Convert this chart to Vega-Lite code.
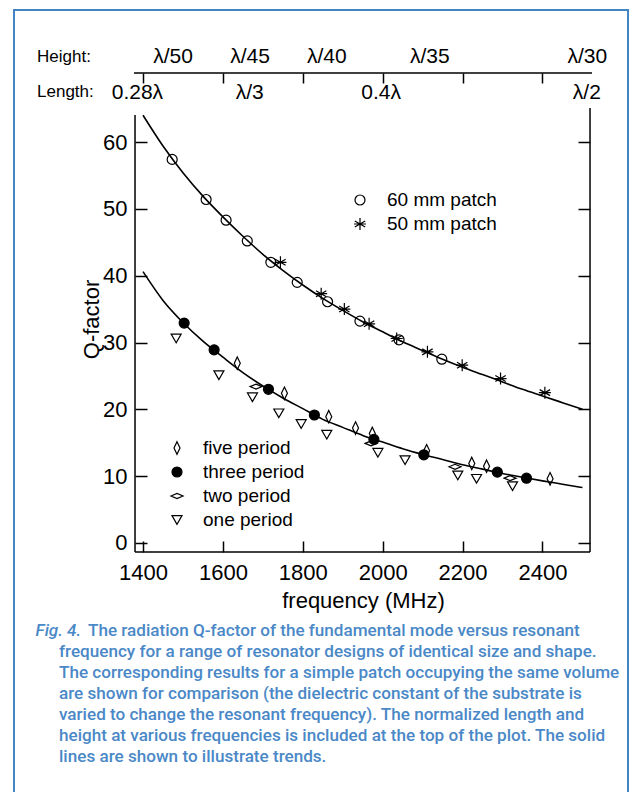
{
  "$schema": "https://vega.github.io/schema/vega-lite/v6.json",
  "width": 633,
  "height": 792,
  "autosize": {"type": "none"},
  "padding": 0,
  "background": "white",
  "config": {
    "view": {"stroke": null},
    "axis": {
      "labelFont": "Liberation Sans",
      "titleFont": "Liberation Sans",
      "labelColor": "black",
      "titleColor": "black",
      "tickColor": "black",
      "domain": false,
      "grid": false,
      "tickWidth": 1.5,
      "titleFontWeight": "normal",
      "labelFontSize": 22,
      "titleFontSize": 22,
      "labelFlush": false,
      "labelOverlap": false,
      "format": "d"
    },
    "text": {"font": "Liberation Sans", "color": "black"}
  },
  "datasets": {
    "curves": [
      {"f": 1400, "q": 64.0, "c": "upper"}, {"f": 1450, "q": 59.4, "c": "upper"}, {"f": 1500, "q": 55.4, "c": "upper"},
      {"f": 1550, "q": 51.9, "c": "upper"}, {"f": 1600, "q": 48.8, "c": "upper"}, {"f": 1650, "q": 45.9, "c": "upper"},
      {"f": 1700, "q": 43.2, "c": "upper"}, {"f": 1750, "q": 40.8, "c": "upper"}, {"f": 1800, "q": 38.6, "c": "upper"},
      {"f": 1850, "q": 36.6, "c": "upper"}, {"f": 1900, "q": 34.8, "c": "upper"}, {"f": 1950, "q": 33.1, "c": "upper"},
      {"f": 2000, "q": 31.6, "c": "upper"}, {"f": 2050, "q": 30.1, "c": "upper"}, {"f": 2100, "q": 28.8, "c": "upper"},
      {"f": 2150, "q": 27.5, "c": "upper"}, {"f": 2200, "q": 26.3, "c": "upper"}, {"f": 2250, "q": 25.2, "c": "upper"},
      {"f": 2300, "q": 24.1, "c": "upper"}, {"f": 2350, "q": 23.0, "c": "upper"}, {"f": 2400, "q": 22.0, "c": "upper"},
      {"f": 2450, "q": 21.0, "c": "upper"}, {"f": 2500, "q": 20.0, "c": "upper"},
      {"f": 1400, "q": 40.6, "c": "lower"}, {"f": 1450, "q": 36.3, "c": "lower"}, {"f": 1500, "q": 33.0, "c": "lower"},
      {"f": 1550, "q": 30.2, "c": "lower"}, {"f": 1600, "q": 27.8, "c": "lower"}, {"f": 1650, "q": 25.5, "c": "lower"},
      {"f": 1700, "q": 23.5, "c": "lower"}, {"f": 1750, "q": 21.7, "c": "lower"}, {"f": 1800, "q": 20.1, "c": "lower"},
      {"f": 1850, "q": 18.5, "c": "lower"}, {"f": 1900, "q": 17.3, "c": "lower"}, {"f": 1950, "q": 16.1, "c": "lower"},
      {"f": 2000, "q": 15.1, "c": "lower"}, {"f": 2050, "q": 14.1, "c": "lower"}, {"f": 2100, "q": 13.25, "c": "lower"},
      {"f": 2150, "q": 12.5, "c": "lower"}, {"f": 2200, "q": 11.7, "c": "lower"}, {"f": 2250, "q": 11.05, "c": "lower"},
      {"f": 2300, "q": 10.4, "c": "lower"}, {"f": 2350, "q": 9.85, "c": "lower"}, {"f": 2400, "q": 9.3, "c": "lower"},
      {"f": 2450, "q": 8.8, "c": "lower"}, {"f": 2500, "q": 8.3, "c": "lower"}
    ],
    "patch": [
      {"f": 1473, "q": 57.4, "s": "60 mm patch"}, {"f": 1558, "q": 51.4, "s": "60 mm patch"},
      {"f": 1608, "q": 48.3, "s": "60 mm patch"}, {"f": 1661, "q": 45.2, "s": "60 mm patch"},
      {"f": 1720, "q": 42.0, "s": "60 mm patch"}, {"f": 1786, "q": 39.0, "s": "60 mm patch"},
      {"f": 1862, "q": 36.1, "s": "60 mm patch"}, {"f": 1943, "q": 33.2, "s": "60 mm patch"},
      {"f": 2041, "q": 30.4, "s": "60 mm patch"}, {"f": 2148, "q": 27.5, "s": "60 mm patch"},
      {"f": 1744, "q": 42.0, "s": "50 mm patch"}, {"f": 1846, "q": 37.3, "s": "50 mm patch"},
      {"f": 1904, "q": 35.0, "s": "50 mm patch"}, {"f": 1966, "q": 32.8, "s": "50 mm patch"},
      {"f": 2035, "q": 30.6, "s": "50 mm patch"}, {"f": 2112, "q": 28.6, "s": "50 mm patch"},
      {"f": 2199, "q": 26.6, "s": "50 mm patch"}, {"f": 2295, "q": 24.6, "s": "50 mm patch"},
      {"f": 2406, "q": 22.5, "s": "50 mm patch"}
    ],
    "period": [
      {"f": 1636, "q": 26.9, "p": "five period"}, {"f": 1754, "q": 22.4, "p": "five period"},
      {"f": 1865, "q": 18.9, "p": "five period"}, {"f": 1932, "q": 17.2, "p": "five period"},
      {"f": 1974, "q": 16.4, "p": "five period"}, {"f": 2110, "q": 13.8, "p": "five period"},
      {"f": 2223, "q": 11.9, "p": "five period"}, {"f": 2260, "q": 11.5, "p": "five period"},
      {"f": 2419, "q": 9.6, "p": "five period"},
      {"f": 1683, "q": 23.4, "p": "two period"}, {"f": 1971, "q": 14.9, "p": "two period"},
      {"f": 2181, "q": 11.4, "p": "two period"}, {"f": 2319, "q": 9.7, "p": "two period"},
      {"f": 1483, "q": 30.6, "p": "one period"}, {"f": 1590, "q": 25.1, "p": "one period"},
      {"f": 1674, "q": 21.8, "p": "one period"}, {"f": 1740, "q": 19.4, "p": "one period"},
      {"f": 1796, "q": 17.8, "p": "one period"}, {"f": 1860, "q": 16.2, "p": "one period"},
      {"f": 1988, "q": 13.5, "p": "one period"}, {"f": 2056, "q": 12.4, "p": "one period"},
      {"f": 2188, "q": 10.1, "p": "one period"}, {"f": 2235, "q": 9.6, "p": "one period"},
      {"f": 2325, "q": 8.5, "p": "one period"},
      {"f": 1503, "q": 32.9, "p": "three period"}, {"f": 1578, "q": 28.9, "p": "three period"},
      {"f": 1714, "q": 23.0, "p": "three period"}, {"f": 1829, "q": 19.15, "p": "three period"},
      {"f": 1978, "q": 15.5, "p": "three period"}, {"f": 2103, "q": 13.2, "p": "three period"},
      {"f": 2287, "q": 10.6, "p": "three period"}, {"f": 2360, "q": 9.7, "p": "three period"}
    ],
    "height": [
      {"label": "λ/50", "f": 1475}, {"label": "λ/45", "f": 1668}, {"label": "λ/40", "f": 1860},
      {"label": "λ/35", "f": 2118}, {"label": "λ/30", "f": 2512}
    ],
    "length": [
      {"label": "0.28λ", "f": 1386}, {"label": "λ/3", "f": 1667}, {"label": "0.4λ", "f": 1996},
      {"label": "λ/2", "f": 2511}
    ],
    "caption": [
      {"part": "fig", "text": "Fig. 4."},
      {"part": "first", "text": "The radiation Q-factor of the fundamental mode versus resonant"},
      {"part": "rest", "text": "frequency for a range of resonator designs of identical size and shape.\nThe corresponding results for a simple patch occupying the same volume\nare shown for comparison (the dielectric constant of the substrate is\nvaried to change the resonant frequency). The normalized length and\nheight at various frequencies is included at the top of the plot. The solid\nlines are shown to illustrate trends."}
    ]
  },
  "layer": [
    {
      "data": {"values": [{}]},
      "mark": {"type": "rect", "filled": false, "color": "#4284c4", "strokeWidth": 2},
      "encoding": {
        "x": {"datum": 1077.05, "type": "quantitative", "scale": {"domain": [1042.0, 2626.6], "nice": false, "zero": false}, "axis": null},
        "x2": {"datum": 2614.1},
        "y": {"datum": 79.75, "type": "quantitative", "scale": {"domain": [-37.26, 81.25], "nice": false, "zero": false}, "axis": null},
        "y2": {"datum": -45}
      }
    },
    {
      "data": {"name": "curves"},
      "mark": {"type": "line", "color": "black", "strokeWidth": 1.6, "interpolate": "monotone"},
      "encoding": {
        "x": {
          "field": "f", "type": "quantitative",
          "scale": {"domain": [1042.0, 2626.6], "nice": false, "zero": false},
          "axis": {
            "orient": "bottom", "offset": -240, "values": [1400, 1600, 1800, 2000, 2200, 2400],
            "tickSize": -11, "labelPadding": 21, "title": "frequency (MHz)", "format": "d",
            "titleX": 363, "titleY": 48, "titleBaseline": "middle", "titleAlign": "center"
          }
        },
        "y": {
          "field": "q", "type": "quantitative",
          "scale": {"domain": [-37.26, 81.25], "nice": false, "zero": false},
          "axis": {
            "orient": "left", "offset": -135, "values": [0, 10, 20, 30, 40, 50, 60],
            "tickSize": -12, "labelPadding": 20, "title": "Q-factor", "format": "d",
            "titleX": -44, "titleY": 319, "titleAngle": -90, "titleBaseline": "middle", "titleAlign": "center"
          }
        },
        "detail": {"field": "c"}
      }
    },
    {
      "data": {"values": [{}]},
      "mark": {"type": "rule", "color": "black", "strokeWidth": 1.5},
      "encoding": {
        "x": {"datum": 2519, "type": "quantitative",
          "axis": {"orient": "top", "offset": -73, "values": [1400, 1600, 1800, 2000, 2200, 2400], "tickSize": -10, "labels": false, "title": null}},
        "y": {"datum": -1.35, "type": "quantitative",
          "axis": {"orient": "right", "offset": -43, "values": [0, 10, 20, 30, 40, 50, 60], "tickSize": -12, "labels": false, "title": null}},
        "y2": {"datum": 65.09}
      }
    },
    {
      "data": {"values": [{}]},
      "mark": {"type": "rule", "color": "black", "strokeWidth": 1.5},
      "encoding": {
        "x": {"datum": 1380, "type": "quantitative", "axis": null},
        "y": {"datum": -1.35, "type": "quantitative", "axis": null},
        "y2": {"datum": 64.04}
      }
    },
    {
      "data": {"values": [{}]},
      "mark": {"type": "rule", "color": "black", "strokeWidth": 1.5},
      "encoding": {
        "x": {"datum": 1380, "type": "quantitative", "axis": null},
        "x2": {"datum": 2519},
        "y": {"datum": -1.35, "type": "quantitative", "axis": null}
      }
    },
    {
      "data": {"values": [{}]},
      "mark": {"type": "rule", "color": "black", "strokeWidth": 1.5},
      "encoding": {
        "x": {"datum": 1377.5, "type": "quantitative", "axis": null},
        "x2": {"datum": 2524},
        "y": {"datum": 70.32, "type": "quantitative", "axis": null}
      }
    },
    {
      "data": {"name": "patch"},
      "mark": {"type": "point", "filled": false, "color": "black", "size": 100, "strokeWidth": 1.2, "opacity": 1},
      "encoding": {
        "x": {"field": "f", "type": "quantitative", "axis": null},
        "y": {"field": "q", "type": "quantitative", "axis": null},
        "shape": {
          "field": "s", "type": "nominal",
          "scale": {"domain": ["60 mm patch", "50 mm patch"], "range": ["circle", "M0,-1.2L0,1.2M-1.04,-0.6L1.04,0.6M-1.04,0.6L1.04,-0.6M-1.2,0L1.2,0"]},
          "legend": {
            "orient": "none", "legendX": 350.5, "legendY": 190.5, "title": null, "padding": 0,
            "labelFont": "Liberation Sans", "labelFontSize": 19, "labelColor": "black",
            "symbolSize": 100, "symbolStrokeColor": "black", "symbolStrokeWidth": 1.2, "symbolFillColor": "transparent",
            "labelOffset": 17.5, "rowPadding": 4
          }
        }
      }
    },
    {
      "data": {"name": "period"},
      "mark": {"type": "point", "filled": false, "color": "black", "size": 100, "strokeWidth": 1.2, "opacity": 1},
      "encoding": {
        "x": {"field": "f", "type": "quantitative", "axis": null},
        "y": {"field": "q", "type": "quantitative", "axis": null},
        "shape": {
          "field": "p", "type": "nominal",
          "scale": {"domain": ["five period", "three period", "two period", "one period"],
            "range": ["M0,-1.25L0.6,0L0,1.25L-0.6,0Z", "circle", "M-1.2,0L0,-0.5L1.2,0L0,0.5Z", "triangle-down"]},
          "legend": {
            "orient": "none", "legendX": 167.5, "legendY": 438.5, "title": null, "padding": 0,
            "labelFont": "Liberation Sans", "labelFontSize": 19, "labelColor": "black",
            "symbolSize": 100, "symbolStrokeColor": "black", "symbolStrokeWidth": 1.2, "symbolFillColor": "transparent",
            "labelOffset": 16.5, "rowPadding": 4,
            "encode": {
              "symbols": {
                "stroke": {"value": "black"},
                "strokeWidth": {"value": 1.2},
                "fill": {"condition": {"test": "datum.value === 'three period'", "value": "black"}, "value": "transparent"}
              }
            }
          }
        },
        "fill": {
          "field": "p", "type": "nominal",
          "scale": {"domain": ["five period", "three period", "two period", "one period"],
            "range": ["transparent", "black", "transparent", "transparent"]},
          "legend": null
        }
      }
    },
    {
      "data": {"name": "height"},
      "mark": {"type": "text", "fontSize": 21, "align": "center", "baseline": "middle"},
      "encoding": {
        "x": {"field": "f", "type": "quantitative", "axis": null},
        "y": {"datum": 72.76, "type": "quantitative", "axis": null},
        "text": {"field": "label"}
      }
    },
    {
      "data": {"name": "length"},
      "mark": {"type": "text", "fontSize": 21, "align": "center", "baseline": "middle"},
      "encoding": {
        "x": {"field": "f", "type": "quantitative", "axis": null},
        "y": {"datum": 67.33, "type": "quantitative", "axis": null},
        "text": {"field": "label"}
      }
    },
    {
      "data": {"values": [{}]},
      "mark": {"type": "text", "text": "Height:", "fontSize": 17, "align": "left", "baseline": "middle"},
      "encoding": {
        "x": {"datum": 1134.7, "type": "quantitative", "axis": null},
        "y": {"datum": 72.76, "type": "quantitative", "axis": null}
      }
    },
    {
      "data": {"values": [{}]},
      "mark": {"type": "text", "text": "Length:", "fontSize": 17, "align": "left", "baseline": "middle"},
      "encoding": {
        "x": {"datum": 1134.7, "type": "quantitative", "axis": null},
        "y": {"datum": 67.5, "type": "quantitative", "axis": null}
      }
    },
    {
      "data": {"name": "caption"},
      "transform": [{"filter": "datum.part === 'fig'"}],
      "mark": {"type": "text", "font": "Roboto", "fontSize": 17.1, "fontWeight": 500, "fontStyle": "italic", "color": "#4a88c7", "align": "left", "baseline": "middle"},
      "encoding": {
        "x": {"datum": 1130.9, "type": "quantitative", "axis": null},
        "y": {"datum": -13.12, "type": "quantitative", "axis": null},
        "text": {"field": "text"}
      }
    },
    {
      "data": {"name": "caption"},
      "transform": [{"filter": "datum.part === 'first'"}],
      "mark": {"type": "text", "font": "Roboto", "fontSize": 17.1, "fontWeight": 500, "color": "#4a88c7", "align": "left", "baseline": "middle"},
      "encoding": {
        "x": {"datum": 1262.3, "type": "quantitative", "axis": null},
        "y": {"datum": -13.12, "type": "quantitative", "axis": null},
        "text": {"field": "text"}
      }
    },
    {
      "data": {"name": "caption"},
      "transform": [{"filter": "datum.part === 'rest'"}],
      "mark": {"type": "text", "font": "Roboto", "fontSize": 17.1, "fontWeight": 500, "color": "#4a88c7", "align": "left", "baseline": "middle", "lineBreak": "\n", "lineHeight": 21},
      "encoding": {
        "x": {"datum": 1189.7, "type": "quantitative", "axis": null},
        "y": {"datum": -16.26, "type": "quantitative", "axis": null},
        "text": {"field": "text"}
      }
    }
  ],
  "resolve": {
    "axis": {"x": "independent", "y": "independent"},
    "scale": {"shape": "independent", "fill": "independent"}
  }
}
